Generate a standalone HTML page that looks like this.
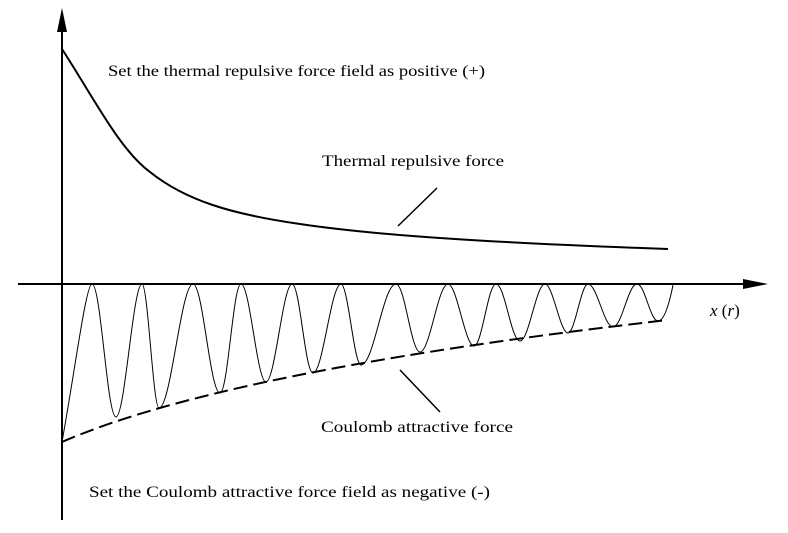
<!DOCTYPE html>
<html><head><meta charset="utf-8"><style>
html,body{margin:0;padding:0;background:#fff;}
svg{display:block;}
</style></head><body>
<svg width="788" height="533" viewBox="0 0 788 533" xmlns="http://www.w3.org/2000/svg">
<g font-family="'Liberation Serif', 'Times New Roman', 'DejaVu Serif', serif" font-size="16" fill="#000">
<line x1="62" y1="520" x2="62" y2="30" stroke="#000" stroke-width="2"/>
<polygon points="62,8 57,32 67,32" fill="#000"/>
<line x1="18" y1="284" x2="745" y2="284" stroke="#000" stroke-width="2"/>
<polygon points="768,284 743,279 743,289" fill="#000"/>
<path d="M62,49 C95,100 120,150 150,172 C185,200 230,214 300,224 C380,236 500,243 668,249" fill="none" stroke="#000" stroke-width="2"/>
<path d="M62,442 C75,370 86,284 92,284 C101,284 107,417 116,417 C125,417 133,284 142,284 C148,284 153,408 159,408 C171,408 181,284 193,284 C203,284 210,393 220,393 C228,393 233,284 241,284 C250,284 257,382 266,382 C275,382 283,284 292,284 C300,284 305,373 313,373 C323,373 331,284 341,284 C348,284 354,365 361,365 C374,365 383,284 396,284 C405,284 411,352 420,352 C430,352 438,284 448,284 C457,284 465,346 474,346 C482,346 488,284 496,284 C505,284 511,341 520,341 C529,341 536,284 545,284 C553,284 560,333 568,333 C575,333 581,284 588,284 C597,284 604,327 613,327 C622,327 628,284 637,284 C645,284 650,321 658,321 C665,321 670,300 673,285" fill="none" stroke="#000" stroke-width="1"/>
<path d="M62,442 C140,408 300,362 668,320" fill="none" stroke="#000" stroke-width="2" stroke-dasharray="14,6"/>
<line x1="398" y1="226" x2="437" y2="188" stroke="#000" stroke-width="1.5"/>
<line x1="400" y1="370" x2="440" y2="412" stroke="#000" stroke-width="1.5"/>
<text x="108" y="76" textLength="377" lengthAdjust="spacingAndGlyphs">Set the thermal repulsive force  field  as positive (+)</text>
<text x="322" y="166" textLength="182" lengthAdjust="spacingAndGlyphs">Thermal repulsive force</text>
<text x="321" y="432" textLength="192" lengthAdjust="spacingAndGlyphs">Coulomb attractive force</text>
<text x="89" y="497" textLength="401" lengthAdjust="spacingAndGlyphs">Set the Coulomb attractive force field  as negative (-)</text>
<text x="710" y="316" font-style="italic" font-size="17">x <tspan font-style="normal">(</tspan>r<tspan font-style="normal">)</tspan></text>
</g>
</svg>
</body></html>
